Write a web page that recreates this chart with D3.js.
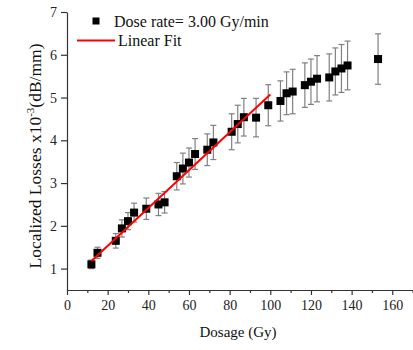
<!DOCTYPE html>
<html>
<head>
<meta charset="utf-8">
<script src="https://cdn.jsdelivr.net/npm/d3@7"></script>
<style>
  body { margin: 0; background: #fff; }
</style>
</head>
<body>
<svg id="chart"></svg>
<script>
(() => {
  const width = 413, height = 350;
  const serif = "'Liberation Serif', 'Times New Roman', serif";

  // dose (Gy), localized loss (x10^-3 dB/mm), error (+/-)
  const dose = [12, 15, 24, 27, 30, 33, 39, 45, 48, 54, 57, 60, 63, 69, 72, 81, 84, 87,
    93, 99, 105, 108, 111, 117, 120, 123, 129, 132, 135, 138, 153];
  const loss = [1.10, 1.37, 1.65, 1.94, 2.11, 2.31, 2.40, 2.50, 2.55, 3.16, 3.34, 3.48, 3.68, 3.78, 3.95, 4.20, 4.38, 4.54,
    4.53, 4.82, 4.92, 5.10, 5.14, 5.29, 5.37, 5.44, 5.47, 5.61, 5.68, 5.75, 5.90];
  const lossErr = [0.10, 0.13, 0.17, 0.20, 0.20, 0.22, 0.25, 0.26, 0.25, 0.32, 0.36, 0.34, 0.36, 0.37, 0.40, 0.42, 0.44, 0.44,
    0.45, 0.48, 0.47, 0.50, 0.52, 0.52, 0.53, 0.54, 0.55, 0.55, 0.56, 0.57, 0.59];

  // linear fit: loss = intercept + slope * dose, drawn over fitRange
  const fitSlope = 0.0442, fitIntercept = 0.65;
  const fitRange = [12, 100];

  const xTicks = [0, 20, 40, 60, 80, 100, 120, 140, 160];
  const xMinorTicks = [10, 30, 50, 70, 90, 110, 130, 150, 170];
  const yTicks = [1, 2, 3, 4, 5, 6, 7];

  const svg = d3.select("#chart")
    .attr("width", width)
    .attr("height", height)
    .style("font-family", serif);

  const x = d3.scaleLinear().domain([0, 170]).range([67, 412.6]);
  const y = d3.scaleLinear().domain([0.5, 7]).range([290, 12]);

  const points = dose.map((d, i) => ({ x: d, y: loss[i], e: lossErr[i] }));

  // axes
  svg.append("g")
    .attr("transform", `translate(0,${y(0.5)})`)
    .call(d3.axisBottom(x).tickValues(xTicks).tickFormat(d3.format("d"))
      .tickSize(5).tickSizeOuter(0).tickPadding(5));
  svg.append("g")
    .attr("transform", `translate(0,${y(0.5)})`)
    .call(d3.axisBottom(x).tickValues(xMinorTicks).tickSize(3).tickFormat(""))
    .call(g => g.select(".domain").remove());

  svg.append("g")
    .attr("transform", `translate(${x(0)},0)`)
    .call(d3.axisLeft(y).tickValues(yTicks).tickFormat(d3.format("d"))
      .tickSize(6).tickSizeOuter(0).tickPadding(4));

  svg.selectAll("g").attr("font-family", serif);
  svg.selectAll(".tick text")
    .attr("font-size", 14)
    .attr("fill", "#222");
  svg.selectAll(".domain, .tick line")
    .attr("stroke", "#333")
    .attr("stroke-width", 1.2);

  // error bars
  const eb = svg.append("g")
    .attr("stroke", "#808080")
    .attr("stroke-width", 1.2);
  eb.selectAll("line.v")
    .data(points)
    .join("line")
    .attr("class", "v")
    .attr("x1", d => x(d.x)).attr("x2", d => x(d.x))
    .attr("y1", d => y(d.y - d.e)).attr("y2", d => y(d.y + d.e));
  eb.selectAll("line.top")
    .data(points)
    .join("line")
    .attr("class", "top")
    .attr("x1", d => x(d.x) - 3).attr("x2", d => x(d.x) + 3)
    .attr("y1", d => y(d.y + d.e)).attr("y2", d => y(d.y + d.e));
  eb.selectAll("line.bot")
    .data(points)
    .join("line")
    .attr("class", "bot")
    .attr("x1", d => x(d.x) - 3).attr("x2", d => x(d.x) + 3)
    .attr("y1", d => y(d.y - d.e)).attr("y2", d => y(d.y - d.e));

  // points
  const sq = 8;
  svg.append("g")
    .selectAll("rect")
    .data(points)
    .join("rect")
    .attr("x", d => x(d.x) - sq / 2)
    .attr("y", d => y(d.y) - sq / 2)
    .attr("width", sq)
    .attr("height", sq)
    .attr("fill", "#000");

  // fit line
  svg.append("line")
    .attr("x1", x(fitRange[0])).attr("y1", y(fitIntercept + fitSlope * fitRange[0]))
    .attr("x2", x(fitRange[1])).attr("y2", y(fitIntercept + fitSlope * fitRange[1]))
    .attr("stroke", "#f00")
    .attr("stroke-width", 2);

  // legend
  const legend = svg.append("g");
  legend.append("rect")
    .attr("x", 92.5).attr("y", 17.5)
    .attr("width", 7).attr("height", 7)
    .attr("fill", "#000");
  legend.append("text")
    .attr("x", 114).attr("y", 27)
    .attr("font-size", 16)
    .attr("fill", "#111")
    .text("Dose rate= 3.00 Gy/min");
  legend.append("line")
    .attr("x1", 77).attr("x2", 115)
    .attr("y1", 40.5).attr("y2", 40.5)
    .attr("stroke", "#f00")
    .attr("stroke-width", 2);
  legend.append("text")
    .attr("x", 118).attr("y", 46)
    .attr("font-size", 16)
    .attr("fill", "#111")
    .text("Linear Fit");

  // axis titles
  svg.append("text")
    .attr("x", 238).attr("y", 336.5)
    .attr("text-anchor", "middle")
    .attr("font-size", 15)
    .attr("fill", "#111")
    .text("Dosage (Gy)");

  const yt = svg.append("text")
    .attr("transform", "translate(41,156) rotate(-90)")
    .attr("text-anchor", "middle")
    .attr("font-size", 17.5)
    .attr("fill", "#111");
  yt.append("tspan").text("Localized Losses x10");
  yt.append("tspan").attr("font-size", 11).attr("dy", -7).text("-3");
  yt.append("tspan").attr("dy", 7).text("(dB/mm)");
})();
</script>
</body>
</html>
